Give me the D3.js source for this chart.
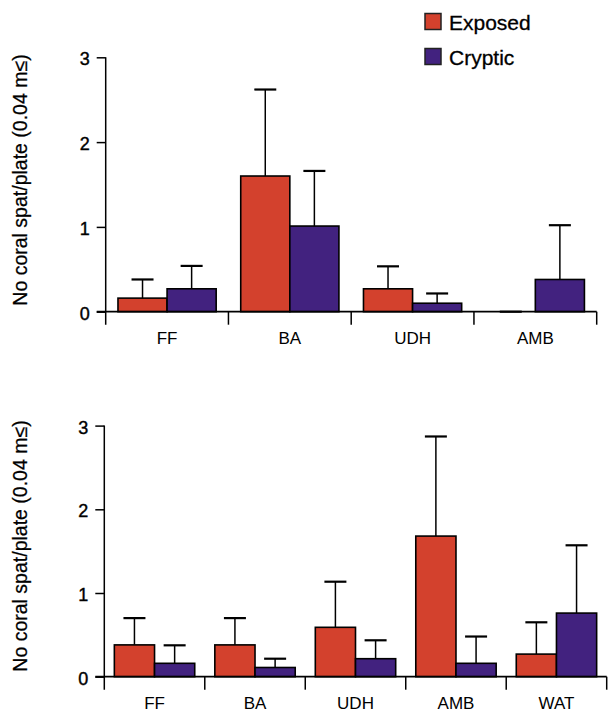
<!DOCTYPE html>
<html>
<head>
<meta charset="utf-8">
<script src="https://cdn.jsdelivr.net/npm/d3@7"></script>
<style>
  body { margin: 0; background: #fff; }
  svg { display: block; font-family: "Liberation Sans", Arial, sans-serif; }
</style>
</head>
<body>
<div id="chart"></div>
<script>
// values, mean and standard error per site
const topSites = ['FF', 'BA', 'UDH', 'AMB'];
const topExposed = [0.16, 1.60, 0.27, 0];
const topExposedSE = [0.22, 1.02, 0.265, 0];
const topCryptic = [0.27, 1.01, 0.10, 0.38];
const topCrypticSE = [0.27, 0.65, 0.115, 0.64];

const bottomSites = ['FF', 'BA', 'UDH', 'AMB', 'WAT'];
const bottomExposed = [0.38, 0.38, 0.59, 1.68, 0.27];
const bottomExposedSE = [0.32, 0.32, 0.545, 1.19, 0.38];
const bottomCryptic = [0.16, 0.11, 0.215, 0.16, 0.76];
const bottomCrypticSE = [0.215, 0.105, 0.22, 0.32, 0.81];

const treatments = ['Exposed', 'Cryptic'];
const colors = ['#d3412d', '#42227f'];
const yTicks = [0, 1, 2, 3];
const yLabel = 'No coral spat/plate (0.04 m\u2264)';

const w = 608;
const h = 713;

const svg = d3.select('#chart')
              .append('svg')
              .attr('width', w)
              .attr('height', h);

function panel(sites, exposed, exposedSE, cryptic, crypticSE, left, right, top, zero, labelY) {
  const g = svg.append('g');

  const x = d3.scaleBand()
              .domain(sites)
              .range([left, right]);
  const xSub = d3.scaleBand()
                 .domain(treatments)
                 .range([0, x.bandwidth()])
                 .paddingOuter(0.25);
  const y = d3.scaleLinear()
              .domain([0, 3])
              .range([zero, top]);

  const rows = [];
  sites.forEach((s, i) => {
    rows.push({ site: s, t: 'Exposed', v: exposed[i], se: exposedSE[i] });
    rows.push({ site: s, t: 'Cryptic', v: cryptic[i], se: crypticSE[i] });
  });

  // error bars first, bars drawn over them
  const err = g.selectAll('.err')
               .data(rows)
               .enter()
               .append('g')
               .attr('class', 'err');
  err.append('line')
     .attr('x1', (d) => x(d.site) + xSub(d.t) + xSub.bandwidth() / 2)
     .attr('x2', (d) => x(d.site) + xSub(d.t) + xSub.bandwidth() / 2)
     .attr('y1', (d) => y(d.v))
     .attr('y2', (d) => y(d.v + d.se))
     .attr('stroke', '#000')
     .attr('stroke-width', 1.5);
  err.append('line')
     .attr('x1', (d) => x(d.site) + xSub(d.t) + xSub.bandwidth() / 2 - 11)
     .attr('x2', (d) => x(d.site) + xSub(d.t) + xSub.bandwidth() / 2 + 11)
     .attr('y1', (d) => y(d.v + d.se))
     .attr('y2', (d) => y(d.v + d.se))
     .attr('stroke', '#000')
     .attr('stroke-width', 2.2);

  g.selectAll('.bar')
   .data(rows.filter((d) => d.v > 0))
   .enter()
   .append('rect')
   .attr('class', 'bar')
   .attr('x', (d) => x(d.site) + xSub(d.t))
   .attr('y', (d) => y(d.v))
   .attr('width', xSub.bandwidth())
   .attr('height', (d) => y(0) - y(d.v))
   .attr('fill', (d) => colors[treatments.indexOf(d.t)])
   .attr('stroke', '#000')
   .attr('stroke-width', 1.6);

  // y axis
  const yAxis = d3.axisLeft(y)
                  .tickValues(yTicks)
                  .tickFormat(d3.format('d'))
                  .tickSize(9)
                  .tickSizeOuter(0)
                  .tickPadding(7);
  const ya = g.append('g')
              .attr('transform', `translate(${left}, 0)`)
              .call(yAxis);
  ya.select('.domain').remove();
  ya.selectAll('.tick line').attr('stroke-width', 1.5);
  ya.selectAll('.tick text')
    .attr('font-size', 18)
    .attr('dy', '0.42em')
    .attr('fill', '#000')
    .attr('stroke', '#000')
    .attr('stroke-width', 0.4);

  // x axis labels
  const xAxis = d3.axisBottom(x)
                  .tickSize(0)
                  .tickPadding(20);
  const xa = g.append('g')
              .attr('transform', `translate(0, ${zero})`)
              .call(xAxis);
  xa.select('.domain').remove();
  xa.selectAll('.tick text')
    .attr('font-size', 17)
    .attr('dy', '0.71em')
    .attr('fill', '#000');

  // baseline and vertical axis line
  g.append('line')
   .attr('x1', left - 9).attr('x2', right)
   .attr('y1', zero).attr('y2', zero)
   .attr('stroke', '#000').attr('stroke-width', 1.8);
  g.append('line')
   .attr('x1', left).attr('x2', left)
   .attr('y1', y(3)).attr('y2', zero + 13)
   .attr('stroke', '#000').attr('stroke-width', 1.5);

  // site dividers under the baseline
  g.selectAll('.div')
   .data(sites.slice(1).map((s) => x(s)).concat([right]))
   .enter()
   .append('line')
   .attr('x1', (d) => d).attr('x2', (d) => d)
   .attr('y1', zero).attr('y2', zero + 13)
   .attr('stroke', '#000').attr('stroke-width', 1.5);

  g.append('text')
   .attr('transform', `translate(27, ${labelY}) rotate(-90)`)
   .attr('text-anchor', 'middle')
   .attr('font-size', 19.5)
   .attr('fill', '#000')
   .attr('stroke', '#000')
   .attr('stroke-width', 0.25)
   .text(yLabel);
}

panel(topSites, topExposed, topExposedSE, topCryptic, topCrypticSE, 105.7, 596.7, 57.3, 311.7, 180);
panel(bottomSites, bottomExposed, bottomExposedSE, bottomCryptic, bottomCrypticSE, 104.3, 606.7, 425.6, 676.7, 546);

// legend
const legend = svg.append('g');
legend.selectAll('rect')
      .data(treatments)
      .enter()
      .append('rect')
      .attr('x', 425)
      .attr('y', (d, i) => 13.5 + i * 35)
      .attr('width', 16)
      .attr('height', 16)
      .attr('fill', (d, i) => colors[i])
      .attr('stroke', '#222')
      .attr('stroke-width', 1.5);
legend.selectAll('text')
      .data(treatments)
      .enter()
      .append('text')
      .attr('x', 449)
      .attr('y', (d, i) => 29.5 + i * 35)
      .attr('font-size', 21)
      .attr('fill', '#000')
      .attr('stroke', '#000')
      .attr('stroke-width', 0.3)
      .text((d) => d);
</script>
</body>
</html>
